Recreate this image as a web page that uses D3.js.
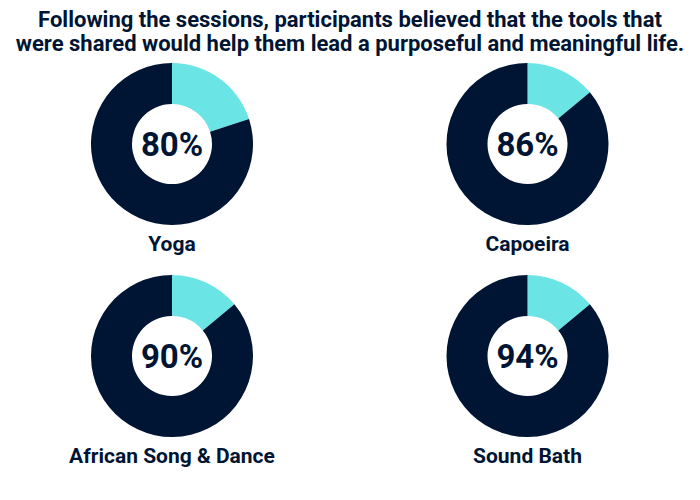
<!DOCTYPE html>
<html>
<head>
<meta charset="utf-8">
<script src="https://cdn.jsdelivr.net/npm/d3@7"></script>
<style>
  html, body { margin: 0; padding: 0; background: #ffffff; }
  svg { display: block; }
  text { font-family: Roboto, "Noto Sans", sans-serif; font-weight: 700; fill: #001533; }
</style>
</head>
<body>
<svg id="chart" width="700" height="500"></svg>
<script>
// ---- data ----
const titleLines = [
  "Following the sessions, participants believed that the tools that",
  "were shared would help them lead a purposeful and meaningful life."
];
const categories = ["Yoga", "Capoeira", "African Song & Dance", "Sound Bath"];
const percentLabels = [80, 86, 90, 94];        // value printed in the centre
const agreeShare = [80, 86, 86, 86];           // navy share as drawn in the picture
const colors = ["#001533", "#6be4e6"];         // agree, other

// ---- layout ----
const svg = d3.select("#chart");
const W = 700, H = 500;

svg.append("g").selectAll("text")
  .data(titleLines)
  .join("text")
  .attr("x", W / 2)
  .attr("y", (d, i) => 27 + i * 24)
  .attr("text-anchor", "middle")
  .attr("font-size", 22)
  .text(d => d);

const col = d3.scalePoint().domain([0, 1]).range([172, 527.5]);
const row = d3.scalePoint().domain([0, 1]).range([144, 356]);

const outerR = 81, innerR = 40;
const pie = d3.pie().sort(null).value(d => d.v);
const arc = d3.arc().innerRadius(innerR).outerRadius(outerR);

const charts = svg.selectAll("g.donut")
  .data(categories.map((c, i) => ({ name: c, label: percentLabels[i], share: agreeShare[i], i })))
  .join("g")
  .attr("class", "donut")
  .attr("transform", d => `translate(${col(d.i % 2)},${row(Math.floor(d.i / 2))})`);

charts.selectAll("path")
  .data(d => pie([{ k: "other", v: 100 - d.share }, { k: "agree", v: d.share }]))
  .join("path")
  .attr("d", arc)
  .attr("fill", d => d.data.k === "agree" ? colors[0] : colors[1]);

charts.append("text")
  .attr("text-anchor", "middle")
  .attr("dy", "0.36em")
  .attr("font-size", 33)
  .text(d => d.label + "%");

charts.append("text")
  .attr("text-anchor", "middle")
  .attr("y", outerR + 26)
  .attr("font-size", 21)
  .text(d => d.name);
</script>
</body>
</html>
